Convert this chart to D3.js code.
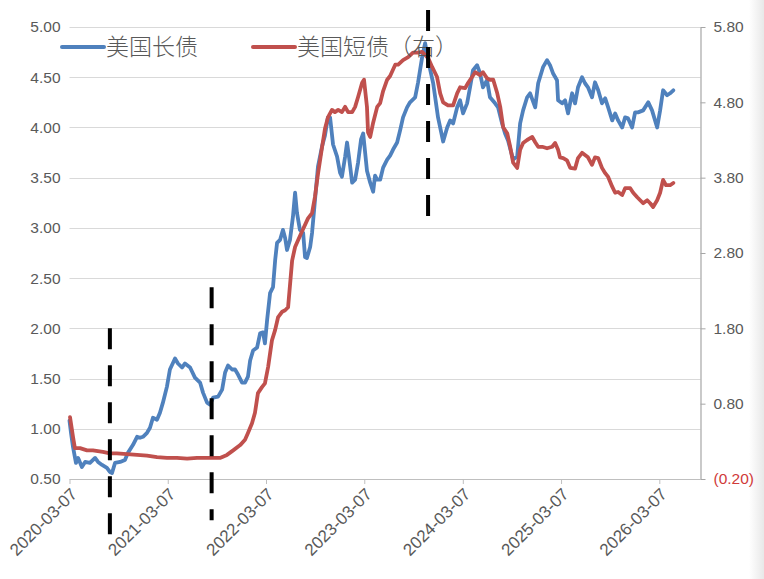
<!DOCTYPE html>
<html><head><meta charset="utf-8">
<script src="https://cdn.jsdelivr.net/npm/d3@7"></script>
<style>html,body{margin:0;padding:0;background:#fff;}svg{display:block;}</style>
</head><body>
<svg id="c" width="764" height="579"></svg>
<script>
const seriesNames = ["美国长债", "美国短债（右）"];
const xTickLabels = ["2020-03-07","2021-03-07","2022-03-07","2023-03-07","2024-03-07","2025-03-07","2026-03-07"];
const leftTicks = [0.5,1.0,1.5,2.0,2.5,3.0,3.5,4.0,4.5,5.0];
const rightTicks = [-0.2,0.8,1.8,2.8,3.8,4.8,5.8];

const longDates = ["2020-03-07","2020-03-13","2020-03-20","2020-03-31","2020-04-08","2020-04-22","2020-05-04","2020-05-22","2020-06-10","2020-06-21","2020-07-06","2020-07-24","2020-08-04","2020-08-12","2020-08-23","2020-09-11","2020-09-29","2020-10-10","2020-10-29","2020-11-13","2020-11-24","2020-12-05","2020-12-20","2020-12-31","2021-01-11","2021-01-26","2021-02-06","2021-02-17","2021-03-04","2021-03-15","2021-04-03","2021-04-14","2021-04-29","2021-05-10","2021-05-29","2021-06-16","2021-07-05","2021-07-16","2021-07-31","2021-08-11","2021-08-22","2021-09-10","2021-09-25","2021-10-06","2021-10-17","2021-11-01","2021-11-12","2021-11-23","2021-12-08","2021-12-19","2021-12-30","2022-01-07","2022-01-18","2022-02-02","2022-02-13","2022-02-24","2022-03-03","2022-03-11","2022-03-22","2022-04-02","2022-04-10","2022-04-17","2022-04-28","2022-05-09","2022-05-17","2022-05-24","2022-06-04","2022-06-15","2022-06-23","2022-06-30","2022-07-11","2022-07-23","2022-07-30","2022-08-06","2022-08-18","2022-08-25","2022-09-05","2022-09-16","2022-10-01","2022-10-12","2022-10-23","2022-10-31","2022-11-11","2022-11-26","2022-12-07","2022-12-14","2022-12-26","2023-01-02","2023-01-09","2023-01-21","2023-02-01","2023-02-12","2023-02-23","2023-03-03","2023-03-17","2023-03-29","2023-04-09","2023-04-16","2023-04-24","2023-05-05","2023-05-16","2023-05-31","2023-06-11","2023-06-22","2023-07-07","2023-07-18","2023-07-29","2023-08-13","2023-08-24","2023-09-12","2023-09-23","2023-10-08","2023-10-19","2023-10-30","2023-11-18","2023-12-06","2023-12-25","2024-01-09","2024-01-20","2024-01-31","2024-02-15","2024-02-26","2024-03-08","2024-03-23","2024-04-03","2024-04-14","2024-04-29","2024-05-10","2024-05-21","2024-06-05","2024-06-16","2024-07-05","2024-07-16","2024-07-31","2024-08-11","2024-08-22","2024-09-10","2024-09-25","2024-10-06","2024-10-17","2024-11-01","2024-11-12","2024-12-01","2024-12-12","2024-12-30","2025-01-14","2025-01-25","2025-02-05","2025-02-20","2025-02-24","2025-03-11","2025-03-22","2025-04-02","2025-04-17","2025-04-28","2025-05-09","2025-05-24","2025-06-04","2025-06-15","2025-06-30","2025-07-11","2025-07-23","2025-08-06","2025-08-18","2025-08-29","2025-09-13","2025-09-24","2025-10-05","2025-10-20","2025-10-31","2025-11-11","2025-11-26","2025-12-07","2025-12-18","2026-01-06","2026-01-25","2026-02-08","2026-02-27","2026-03-10","2026-03-21","2026-04-05","2026-04-16","2026-04-28"];
const longValues = [1.08,0.95,0.82,0.66,0.71,0.62,0.67,0.66,0.71,0.67,0.64,0.61,0.57,0.56,0.66,0.67,0.69,0.76,0.84,0.92,0.91,0.92,0.96,1.01,1.11,1.09,1.16,1.26,1.42,1.59,1.70,1.65,1.61,1.65,1.61,1.51,1.46,1.36,1.26,1.24,1.31,1.32,1.39,1.56,1.63,1.59,1.59,1.54,1.46,1.46,1.52,1.68,1.78,1.81,1.95,1.96,1.85,2.08,2.35,2.41,2.68,2.85,2.88,2.98,2.90,2.78,2.88,3.11,3.35,3.15,2.98,2.95,2.71,2.70,2.81,2.95,3.28,3.61,3.81,3.92,4.10,4.10,3.83,3.71,3.55,3.51,3.71,3.85,3.71,3.45,3.48,3.65,3.88,3.94,3.57,3.45,3.36,3.52,3.48,3.48,3.60,3.68,3.72,3.78,3.85,3.97,4.10,4.20,4.25,4.30,4.45,4.70,4.84,4.67,4.44,4.10,3.86,4.00,4.07,4.04,4.20,4.27,4.14,4.24,4.40,4.57,4.62,4.54,4.40,4.47,4.30,4.24,4.20,4.04,3.94,3.87,3.68,3.71,4.04,4.17,4.30,4.34,4.20,4.44,4.60,4.67,4.62,4.54,4.47,4.27,4.24,4.27,4.14,4.34,4.24,4.40,4.50,4.44,4.40,4.30,4.45,4.37,4.24,4.29,4.20,4.07,4.14,4.07,4.00,4.10,4.09,4.00,4.15,4.15,4.17,4.25,4.17,4.00,4.17,4.37,4.32,4.34,4.37];

const shortDates = ["2020-03-09","2020-03-20","2020-03-27","2020-04-15","2020-05-11","2020-06-02","2020-07-09","2020-08-04","2020-08-30","2020-10-07","2020-11-13","2020-12-20","2021-01-26","2021-03-04","2021-04-10","2021-05-18","2021-06-24","2021-08-11","2021-09-17","2021-10-13","2021-11-05","2021-12-01","2021-12-19","2021-12-30","2022-01-14","2022-01-25","2022-02-05","2022-02-20","2022-03-03","2022-03-15","2022-03-29","2022-04-10","2022-04-21","2022-05-06","2022-05-17","2022-05-28","2022-06-12","2022-06-23","2022-07-04","2022-07-19","2022-08-10","2022-08-25","2022-09-05","2022-09-16","2022-10-01","2022-10-12","2022-10-23","2022-11-07","2022-11-18","2022-11-30","2022-12-14","2022-12-26","2023-01-06","2023-01-21","2023-02-01","2023-02-12","2023-02-27","2023-03-06","2023-03-17","2023-03-21","2023-03-29","2023-04-09","2023-04-24","2023-05-05","2023-05-16","2023-05-31","2023-06-11","2023-06-30","2023-07-11","2023-07-29","2023-08-17","2023-09-04","2023-09-23","2023-10-08","2023-10-19","2023-10-30","2023-11-14","2023-12-02","2023-12-14","2023-12-25","2024-01-12","2024-01-31","2024-02-15","2024-02-26","2024-03-16","2024-03-27","2024-04-11","2024-04-22","2024-05-10","2024-05-21","2024-06-05","2024-06-16","2024-06-28","2024-07-13","2024-07-24","2024-08-04","2024-08-19","2024-08-30","2024-09-10","2024-09-25","2024-10-06","2024-10-17","2024-11-01","2024-11-20","2024-12-01","2024-12-12","2024-12-27","2025-01-14","2025-02-02","2025-02-13","2025-02-24","2025-03-03","2025-03-15","2025-03-29","2025-04-10","2025-04-28","2025-05-09","2025-05-24","2025-06-04","2025-06-15","2025-06-30","2025-07-11","2025-07-23","2025-08-06","2025-08-18","2025-08-29","2025-09-13","2025-09-24","2025-10-05","2025-10-20","2025-10-31","2025-11-19","2025-11-30","2025-12-15","2025-12-26","2026-01-06","2026-01-21","2026-02-01","2026-02-12","2026-02-27","2026-03-10","2026-03-21","2026-04-01","2026-04-16","2026-04-28"];
const shortValues = [0.62,0.36,0.21,0.21,0.18,0.18,0.16,0.14,0.14,0.13,0.12,0.11,0.09,0.08,0.08,0.07,0.08,0.08,0.08,0.12,0.18,0.25,0.32,0.41,0.54,0.68,0.94,1.02,1.07,1.29,1.64,1.78,1.95,2.02,2.04,2.08,2.70,2.88,2.97,3.09,3.26,3.33,3.55,3.85,4.20,4.45,4.60,4.70,4.67,4.70,4.67,4.74,4.67,4.67,4.74,4.87,5.06,5.10,4.74,4.40,4.34,4.53,4.74,4.79,4.95,5.10,5.15,5.30,5.30,5.36,5.40,5.46,5.46,5.47,5.43,5.39,5.27,5.14,4.92,4.80,4.76,4.76,4.92,5.00,4.99,5.06,5.14,5.20,5.16,5.20,5.12,5.10,5.10,4.92,4.74,4.47,4.39,4.21,4.00,3.93,4.17,4.26,4.30,4.34,4.27,4.21,4.21,4.19,4.21,4.26,4.17,4.07,4.06,4.03,3.93,3.92,4.06,4.13,4.10,4.07,3.97,4.07,4.06,3.93,3.86,3.81,3.68,3.60,3.61,3.57,3.66,3.66,3.60,3.54,3.50,3.46,3.50,3.46,3.41,3.50,3.60,3.77,3.70,3.70,3.73];

// dashed annotation markers (date, top and bottom in left-axis units)
const markerDates = ["2020-08-04","2021-08-17","2023-10-30"];
const markerTops = [2.00, 2.41, 5.17];
const markerBottoms = [-0.11, 0.09, 3.10];

(function () {
const parse = d3.timeParse("%Y-%m-%d");
const svg = d3.select("#c");
const W = 764, H = 579;
const pl = 69.5, pr = 700.5, pt = 27, pb = 479;

const x = d3.scaleTime().domain([parse("2020-03-07"), parse("2026-08-07")]).range([pl, pr]);
const yL = d3.scaleLinear().domain([0.5, 5.0]).range([pb, pt]);
const yR = d3.scaleLinear().domain([-0.2, 5.8]).range([pb, pt]);

const gray = "#595959";
const fontNum = "'Liberation Sans', Arial, sans-serif";

// right edge shading
const defs = svg.append("defs");
const grad = defs.append("linearGradient").attr("id","edge").attr("x1","0").attr("x2","1");
grad.append("stop").attr("offset","0").attr("stop-color","#ffffff");
grad.append("stop").attr("offset","1").attr("stop-color","#e8e8e8");
svg.append("rect").attr("x",749).attr("y",0).attr("width",15).attr("height",H).attr("fill","url(#edge)");

// gridlines
svg.append("g").selectAll("line").data(leftTicks).join("line")
  .attr("x1", pl).attr("x2", pr)
  .attr("y1", d => Math.round(yL(d)) + 0.5).attr("y2", d => Math.round(yL(d)) + 0.5)
  .attr("stroke", "#d9d9d9").attr("stroke-width", 1.2);

// left axis labels
const axL = d3.axisLeft(yL).tickValues(leftTicks).tickFormat(d3.format(".2f")).tickSize(0).tickPadding(9);
const gL = svg.append("g").attr("transform", `translate(${pl},0)`).call(axL);
gL.select(".domain").remove();
gL.selectAll("text").attr("font-family", fontNum).attr("font-size", 15.5).attr("fill", gray);

// right axis
const fmtR = d => d < 0 ? "(" + d3.format(".2f")(-d) + ")" : d3.format(".2f")(d);
const axR = d3.axisRight(yR).tickValues(rightTicks).tickFormat(fmtR).tickSize(5).tickSizeOuter(0).tickPadding(8);
const gR = svg.append("g").attr("transform", `translate(${pr},0)`).call(axR);
gR.select(".domain").attr("stroke", "#a6a6a6").attr("stroke-width", 1.2);
gR.selectAll(".tick line").attr("stroke", "#a6a6a6");
gR.selectAll("text").attr("font-family", fontNum).attr("font-size", 15.5)
  .attr("fill", d => d < 0 ? "#d03a3a" : gray);

// bottom axis
const xTickDates = xTickLabels.map(parse);
const axB = d3.axisBottom(x).tickValues(xTickDates).tickFormat(d3.timeFormat("%Y-%m-%d")).tickSize(5).tickSizeOuter(0);
const gB = svg.append("g").attr("transform", `translate(0,${pb})`).call(axB);
gB.select(".domain").attr("stroke", "#bfbfbf").attr("stroke-width", 1.2);
gB.selectAll(".tick line").attr("stroke", "#bfbfbf");
gB.selectAll("text").attr("font-family", fontNum).attr("font-size", 17).attr("fill", gray)
  .attr("text-anchor", "end").attr("y", 0).attr("dy", "0.35em")
  .attr("transform", "translate(4,12) rotate(-45)");

// series
const longData = longDates.map((d, i) => ({d: parse(d), v: longValues[i]}));
const shortData = shortDates.map((d, i) => ({d: parse(d), v: shortValues[i]}));
const lineL = d3.line().x(p => x(p.d)).y(p => yL(p.v));
const lineR = d3.line().x(p => x(p.d)).y(p => yR(p.v));
const blue = "#4f81bd", red = "#c0504d";
svg.append("path").datum(longData).attr("d", lineL).attr("fill", "none")
  .attr("stroke", blue).attr("stroke-width", 3.8).attr("stroke-linejoin", "round").attr("stroke-linecap","round");
svg.append("path").datum(shortData).attr("d", lineR).attr("fill", "none")
  .attr("stroke", red).attr("stroke-width", 3.8).attr("stroke-linejoin", "round").attr("stroke-linecap","round");

// legend
const legX = [62, 253];
const lg = svg.append("g");
seriesNames.forEach((n, i) => {
  lg.append("line").attr("x1", legX[i]).attr("x2", legX[i] + 42).attr("y1", 47).attr("y2", 47)
    .attr("stroke", i === 0 ? blue : red).attr("stroke-width", 4).attr("stroke-linecap","round");
  lg.append("text").attr("x", legX[i] + 44).attr("y", 47).attr("dy", "0.36em")
    .attr("font-family", "'Noto Sans CJK SC', sans-serif").attr("font-weight", 300)
    .attr("font-size", 23).attr("fill", gray).text(n);
});

// dashed markers
svg.append("g").selectAll("line").data(markerDates).join("line")
  .attr("x1", d => x(parse(d))).attr("x2", d => x(parse(d)))
  .attr("y1", (d, i) => yL(markerTops[i])).attr("y2", (d, i) => yL(markerBottoms[i]))
  .attr("stroke", "#000").attr("stroke-width", 4).attr("stroke-dasharray", "21,16");
})();
</script>
</body></html>
